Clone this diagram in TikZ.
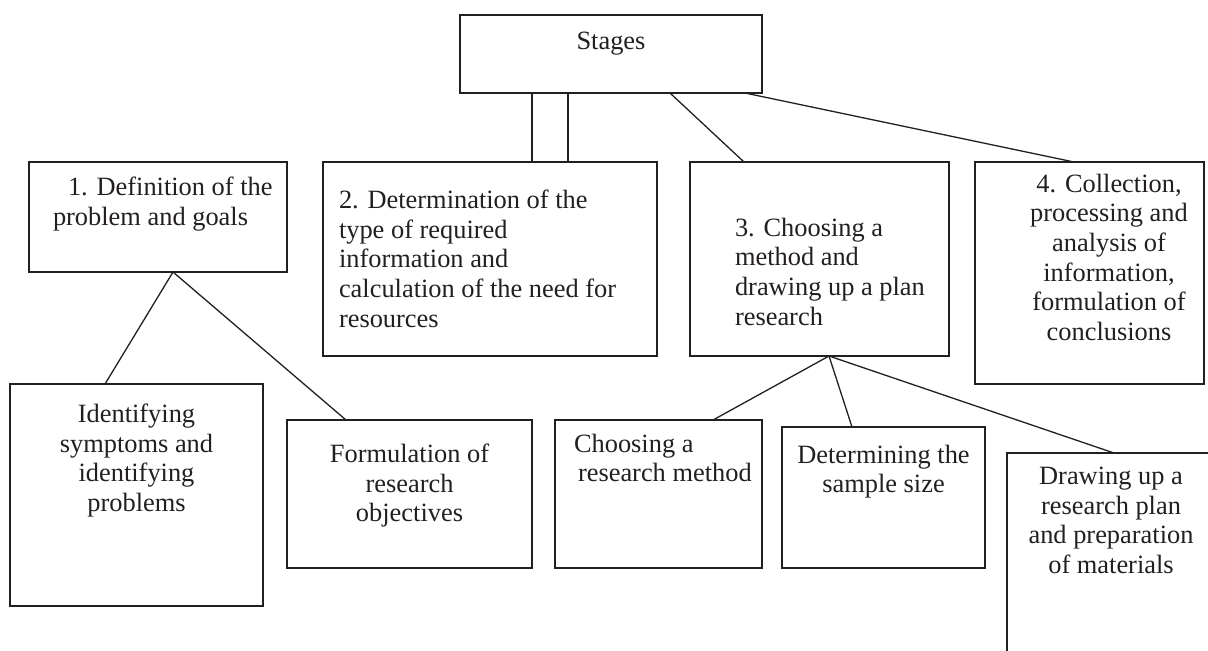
\documentclass[tikz,border=0pt]{standalone}
\usepackage{fontspec}
\setmainfont{Liberation Serif}
\usetikzlibrary{calc}
\definecolor{ink}{HTML}{231F20}
\tikzset{
  box/.style={draw=ink, line width=0.7pt, inner sep=0pt, outer sep=0pt, rectangle},
  txt/.style={inner sep=0pt, outer sep=0pt, text=ink,
              font=\fontsize{13.2}{14.8}\selectfont},
  link/.style={draw=ink, line width=0.65pt}
}
\begin{document}
\begin{tikzpicture}[x=0.5pt, y=-0.5pt]
\useasboundingbox (0,0) rectangle (1208,650);
\clip (0,0) rectangle (1208,650);

% boxes
\node[box, minimum width=151pt,   minimum height=39pt]   (stages) at (611,54) {};
\node[box, minimum width=129pt,   minimum height=55pt]   (b1) at (158,217) {};
\node[box, minimum width=167pt,   minimum height=97pt]   (b2) at (490,259) {};
\node[box, minimum width=129.5pt, minimum height=97pt]   (b3) at (819.5,259) {};
\node[box, minimum width=114.5pt, minimum height=111pt]  (b4) at (1089.5,273) {};
\node[box, minimum width=126.5pt, minimum height=111pt]  (s1) at (136.5,495) {};
\node[box, minimum width=122.5pt, minimum height=74pt]   (s2) at (409.5,494) {};
\node[box, minimum width=103.5pt, minimum height=74pt]   (m1) at (658.5,494) {};
\node[box, minimum width=101.5pt, minimum height=70.5pt] (m2) at (883.5,497.5) {};
\node[box, minimum width=103.5pt, minimum height=133.5pt] (m3) at (1110.5,586.5) {};

% labels
\node[txt, anchor=north] (t0) at (611,32) {Stages};
\node[txt, anchor=north west, align=left] (t1) at (53,177)
  {\hspace*{7.5pt}1. Definition of the\\problem and goals};
\node[txt, anchor=north west, align=left] (t2) at (339,190)
  {2. Determination of the\\type of required\\information and\\calculation of the need for\\resources};
\node[txt, anchor=north west, align=left] (t3) at (735,218)
  {3. Choosing a\\method and\\drawing up a plan\\research};
\node[txt, anchor=north, align=center] (t4) at (1109,174)
  {4. Collection,\\processing and\\analysis of\\information,\\formulation of\\conclusions};
\node[txt, anchor=north, align=center] (t5) at (136.5,404)
  {Identifying\\symptoms and\\identifying\\problems};
\node[txt, anchor=north, align=center] (t6) at (409.5,444)
  {Formulation of\\research\\objectives};
\node[txt, anchor=north west, align=left] (t7) at (574,434)
  {Choosing a\\\hspace*{2pt}research method};
\node[txt, anchor=north, align=center] (t8) at (883.5,445)
  {Determining the\\sample size};
\node[txt, anchor=north, align=center] (t9) at (1111,467)
  {Drawing up a\\research plan\\and preparation\\of materials};

% connectors
\draw[link] ($(stages.south west)+(72,0)$)  -- ($(b2.north west)+(209,0)$);
\draw[link] ($(stages.south west)+(108,0)$) -- ($(b2.north west)+(245,0)$);
\draw[link] ($(stages.south west)+(210,0)$) -- ($(b3.north west)+(54,0)$);
\draw[link] ($(stages.south west)+(285,0)$) -- ($(b4.north west)+(99,0)$);
\draw[link] ($(b1.south west)+(144,0)$) -- ($(s1.north west)+(95,0)$);
\draw[link] ($(b1.south west)+(144,0)$) -- ($(s2.north west)+(59,0)$);
\draw[link] ($(b3.south west)+(139,0)$) -- ($(m1.north west)+(158,0)$);
\draw[link] ($(b3.south west)+(139,0)$) -- ($(m2.north west)+(70,0)$);
\draw[link] ($(b3.south west)+(139,0)$) -- ($(m3.north west)+(107,0)$);
\end{tikzpicture}
\end{document}
